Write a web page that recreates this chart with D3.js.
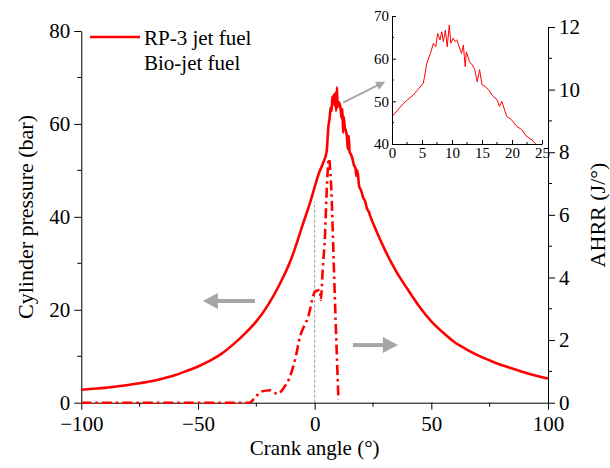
<!DOCTYPE html>
<html lang="en">
<head>
    <meta charset="UTF-8" />
    <script src="https://d3js.org/d3.v7.min.js"></script>
    <style>
        body { margin: 0; background: #fff; }
        svg { display: block; font-family: "Liberation Serif", "Times New Roman", serif; }
        .axis path, .axis line { stroke: #000; stroke-width: 1px; }
        .axis text { font-family: "Liberation Serif", "Times New Roman", serif; fill: #000; }
    </style>
</head>
<body>
<svg width="610" height="468"></svg>
<script>
    // cylinder pressure
    const angle = [-100, -95, -90, -85, -80, -75, -70, -65, -60, -55, -50, -45, -40, -35, -30, -25, -20, -15, -10, -5, -2,
        0, 1.9, 3.55, 5.2, 5.4, 5.8, 6.4, 6.9, 7.3, 7.6, 8.0, 8.3, 8.55, 8.9, 9.2, 9.55, 9.8,
        10.2, 10.5, 10.8, 11.2, 11.6, 11.9, 12.2, 12.4, 12.9, 13.4, 13.8, 14.2, 14.6, 15.0,
        15.5, 16.1, 16.8, 17.5, 17.9, 18.3, 19.1, 19.9, 20.8, 21.6, 22.4, 23.3, 23.8,
        26, 30, 35, 40, 45, 50, 55, 60, 65, 70, 75, 80, 85, 90, 95, 100];
    const pressure = [2.8, 3.0, 3.2, 3.5, 3.8, 4.2, 4.6, 5.2, 5.9, 6.8, 7.8, 9.0, 10.5, 12.5, 14.8, 17.5, 21, 25.5, 31, 38.5, 43,
        46.4, 49.5, 51.5, 54.2, 55.6, 58.9, 61.2, 63.6, 62.8, 65.9, 64.4, 66.3, 64, 66.7, 62.8, 67.9, 63.6,
        64.8, 64, 64.4, 62.8, 61.2, 63.2, 58.1, 61.6, 59.3, 58.5, 57.4, 54.6, 57.4, 53.9,
        53.5, 52.7, 51.2, 50.4, 48.8, 50, 46.5, 45.7, 44.1, 43.4, 41.8, 41, 40.2,
        37.5, 33, 28.2, 24.3, 20.6, 17.5, 15.1, 13, 11.5, 10.2, 9.1, 8.1, 7.3, 6.5, 5.8, 5.2];

    // heat release rate
    const hrrAngle = [-100, -28, -26, -23, -19, -16, -13, -10.6, -8, -6.3, -4.5, -2.7, -1, 0.1,
        2.3, 2.6, 3.5, 4.4, 5.3, 6.1, 6.8, 7.5, 8.0, 9.0, 10.2];
    const hrr = [0, 0, 0.12, 0.35, 0.4, 0.28, 0.5, 0.83, 1.5, 2.1, 2.45, 2.75, 3.3, 3.55,
        3.6, 3.28, 4.3, 5.3, 7.0, 7.8, 7.3, 6.1, 4.9, 2.6, 0.1];

    const xTicks = [-100, -50, 0, 50, 100];
    const pTicks = [0, 20, 40, 60, 80];
    const hTicks = [0, 2, 4, 6, 8, 10, 12];
    const insetXTicks = [0, 5, 10, 15, 20, 25];
    const insetYTicks = [40, 50, 60, 70];
    const legendNames = ["RP-3 jet fuel", "Bio-jet fuel"];

    const red = "#ff0000", grey = "#a6a6a6";
    const svg = d3.select("svg");

    const x = d3.scaleLinear().domain([-100, 100]).range([81.3, 548]);
    const yP = d3.scaleLinear().domain([0, 80]).range([402.7, 31]);
    const yH = d3.scaleLinear().domain([0, 12]).range([402.7, 27]);

    function minorTicks(axisG, scale, vals, orient, len) {
        vals.forEach(v => {
            const p = scale(v);
            if (orient === "bottom") axisG.append("line").attr("x1", p).attr("x2", p).attr("y1", 0).attr("y2", len);
            if (orient === "left") axisG.append("line").attr("y1", p).attr("y2", p).attr("x1", 0).attr("x2", -len);
            if (orient === "right") axisG.append("line").attr("y1", p).attr("y2", p).attr("x1", 0).attr("x2", len);
        });
        axisG.selectAll("line").attr("stroke", "#000");
    }

    // axes
    const gx = svg.append("g").attr("class", "axis").attr("transform", "translate(0,402.7)")
        .call(d3.axisBottom(x).tickValues(xTicks).tickSize(7).tickSizeOuter(0).tickPadding(6)
            .tickFormat(d => d < 0 ? "\u2212" + Math.abs(d) : d));
    gx.selectAll("text").style("font-size", "21px");
    minorTicks(gx, x, [-75, -25, 25, 75], "bottom", 4);

    const gl = svg.append("g").attr("class", "axis").attr("transform", "translate(81.3,0)")
        .call(d3.axisLeft(yP).tickValues(pTicks).tickSize(7).tickSizeOuter(0).tickPadding(4));
    gl.selectAll("text").style("font-size", "21px");
    minorTicks(gl, yP, [10, 30, 50, 70], "left", 4);

    const gr = svg.append("g").attr("class", "axis").attr("transform", "translate(548,0)")
        .call(d3.axisRight(yH).tickValues(hTicks).tickSize(7).tickSizeOuter(0).tickPadding(4));
    gr.selectAll("text").style("font-size", "21px");
    minorTicks(gr, yH, [1, 3, 5, 7, 9, 11], "right", 4);

    // axis titles
    svg.append("text").attr("x", 314.7).attr("y", 455).attr("text-anchor", "middle")
        .style("font-size", "21px").text("Crank angle (\u00B0)");
    svg.append("text").attr("transform", "translate(33,217) rotate(-90)").attr("text-anchor", "middle")
        .style("font-size", "22px").text("Cylinder pressure (bar)");
    svg.append("text").attr("transform", "translate(605,215) rotate(-90)").attr("text-anchor", "middle")
        .style("font-size", "22px").text("AHRR (J/\u00B0)");

    // TDC guide
    svg.append("line").attr("x1", x(0)).attr("x2", x(0)).attr("y1", yP(0)).attr("y2", yP(43.3))
        .attr("stroke", "#999").attr("stroke-width", 1).attr("stroke-dasharray", "3,2");

    // curves
    const pLine = d3.line().curve(d3.curveMonotoneX).x((d, i) => x(angle[i])).y(d => yP(d));
    svg.append("path").attr("d", pLine(pressure)).attr("fill", "none")
        .attr("stroke", red).attr("stroke-width", 2.6).attr("stroke-linejoin", "round");

    const hLine = d3.line().curve(d3.curveMonotoneX).x((d, i) => x(hrrAngle[i])).y(d => yH(d));
    svg.append("path").attr("d", hLine(hrr)).attr("fill", "none")
        .attr("stroke", red).attr("stroke-width", 2.6).attr("stroke-dasharray", "10,4,2.5,4");

    // arrows
    function arrow(x1, y1, x2, y2, w, headL, headW) {
        const dx = x2 - x1, dy = y2 - y1, L = Math.hypot(dx, dy);
        const ux = dx / L, uy = dy / L, nx = -uy, ny = ux;
        const bx = x2 - ux * headL, by = y2 - uy * headL;
        svg.append("line").attr("x1", x1).attr("y1", y1).attr("x2", bx + ux).attr("y2", by + uy)
            .attr("stroke", grey).attr("stroke-width", w);
        svg.append("path").attr("fill", grey)
            .attr("d", `M${x2},${y2}L${bx + nx * headW / 2},${by + ny * headW / 2}L${bx - nx * headW / 2},${by - ny * headW / 2}Z`);
    }
    arrow(x(-25.6), yP(21.9), x(-47.9), yP(21.9), 4, 15, 16);
    arrow(x(16.4), yP(12.4), x(35.7), yP(12.4), 4, 15, 16);
    arrow(x(12.2), yP(64.6), x(30.2), yP(69.1), 2, 9, 9);

    // legend
    svg.append("line").attr("x1", 90).attr("x2", 140).attr("y1", 37).attr("y2", 37)
        .attr("stroke", red).attr("stroke-width", 2.6);
    svg.selectAll(".leg").data(legendNames).join("text").attr("class", "leg")
        .attr("x", 144).attr("y", (d, i) => 45 + i * 25)
        .style("font-size", "21px").text(d => d);

    // inset
    const ix = d3.scaleLinear().domain([0, 25]).range([392, 542]);
    const iy = d3.scaleLinear().domain([40, 70]).range([144, 16]);
    svg.append("clipPath").attr("id", "insetClip").append("rect")
        .attr("x", 392).attr("y", 16).attr("width", 150).attr("height", 128);
    const iLine = d3.line().defined((d, i) => angle[i] >= -2 && angle[i] <= 26)
        .x((d, i) => ix(angle[i])).y(d => iy(d));
    svg.append("path").attr("d", iLine(pressure)).attr("fill", "none").attr("clip-path", "url(#insetClip)")
        .attr("stroke", red).attr("stroke-width", 1);

    const ixg = svg.append("g").attr("class", "axis").attr("transform", "translate(0,144)")
        .call(d3.axisBottom(ix).tickValues(insetXTicks).tickSize(-4).tickSizeOuter(0).tickPadding(3));
    ixg.selectAll("text").style("font-size", "15px");
    minorTicks(ixg, ix, [2.5, 7.5, 12.5, 17.5, 22.5], "bottom", -2);

    const iyg = svg.append("g").attr("class", "axis").attr("transform", "translate(392,0)")
        .call(d3.axisLeft(iy).tickValues(insetYTicks).tickSize(-4).tickSizeOuter(0).tickPadding(3));
    iyg.selectAll("text").style("font-size", "15px");
    minorTicks(iyg, iy, [45, 55, 65], "left", -2);
</script>
</body>
</html>
